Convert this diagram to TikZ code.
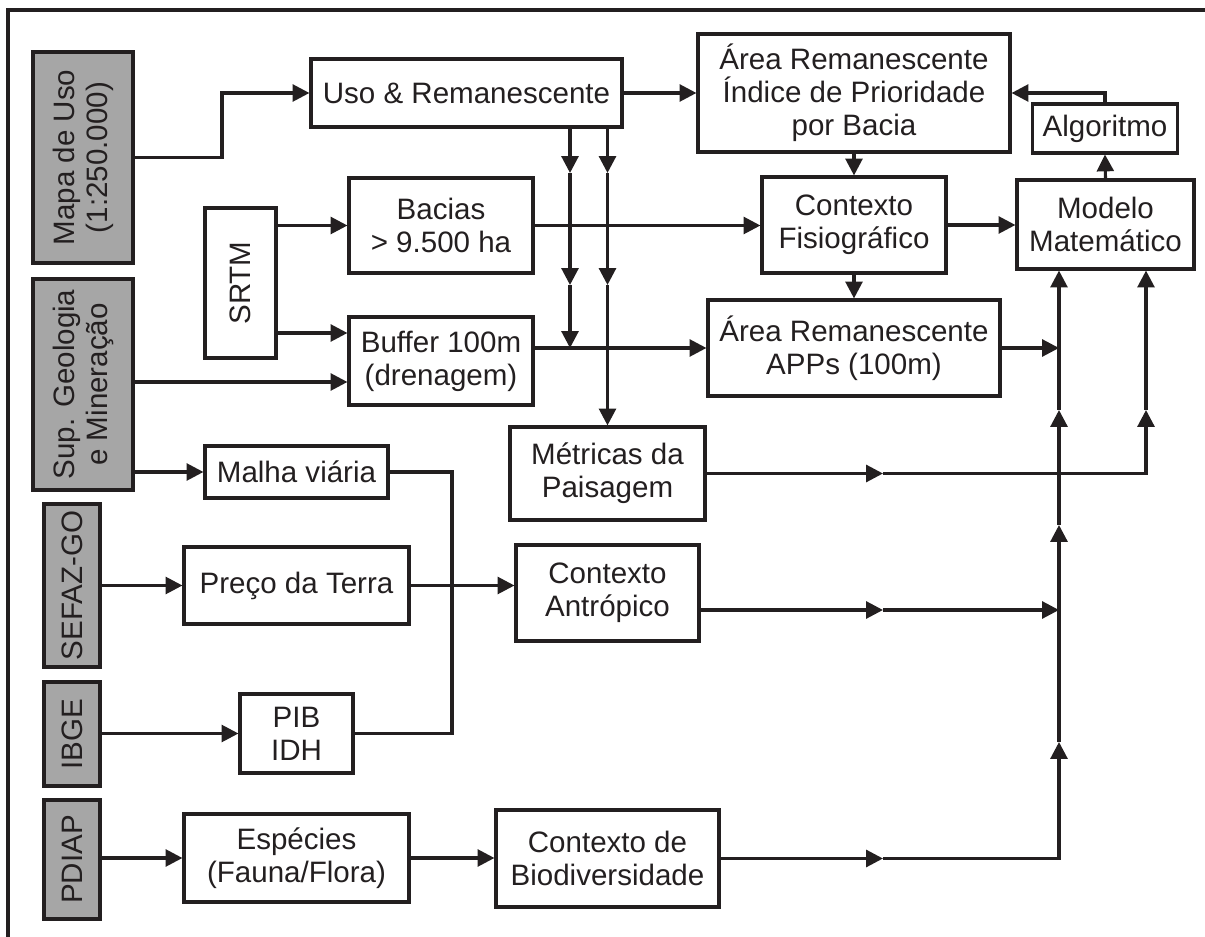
\documentclass[tikz,border=0pt]{standalone}
\usepackage{fontspec}
\setmainfont{Liberation Sans}
\usepackage{tikz}
\usetikzlibrary{arrows.meta}
\definecolor{ink}{HTML}{231F20}
\definecolor{srcgray}{HTML}{A6A6A6}

\tikzset{
  blk/.style={draw=ink, line width=2.2pt, fill=white, inner sep=0pt, align=center,
    font=\fontsize{21}{23.5}\selectfont},
  src/.style={blk, fill=srcgray, rotate=90},
  sz/.style 2 args={minimum width=#1*0.025cm, minimum height=#2*0.025cm},
  arr/.style={-{Triangle[length=0.42cm, width=0.42cm]}}
}

\begin{document}
\begin{tikzpicture}[x=0.025cm, y=-0.025cm, line width=2.2pt, color=ink]
  \useasboundingbox (0,0) rectangle (1205,937);

  % frame
  \draw (8,937) -- (8,10) -- (1205,10);

  % data sources (gray)
  \node[src, sz={211}{100}] (mapa) at (83,157.5) {Mapa de Uso\\(1:250.000)};
  \node[src, sz={211}{100}] (sup) at (83,384.5) {Sup. Geologia\\e Mineração};
  \node[src, sz={163}{56}] (sefaz) at (72,585.5) {SEFAZ-GO};
  \node[src, sz={104}{56}] (ibge) at (72,734) {IBGE};
  \node[src, sz={119}{56}] (pdiap) at (72,859.5) {PDIAP};
  \node[blk, rotate=90, sz={150}{71}] (srtm) at (240.5,283) {SRTM};

  % processing steps
  \node[blk, sz={311}{68}] (uso) at (466.5,93) {Uso \& Remanescente};
  \node[blk, sz={312}{118}] (area) at (854,93) {Área Remanescente\\Índice de Prioridade\\por Bacia};
  \node[blk, sz={145}{49}] (algo) at (1105,128.5) {Algoritmo};
  \node[blk, sz={184}{95}] (bacias) at (441,225.5) {Bacias\\> 9.500 ha};
  \node[blk, sz={184}{96}] (fisio) at (854,225) {Contexto\\Fisiográfico};
  \node[blk, sz={177}{89}] (modelo) at (1105.5,224.5) {Modelo\\Matemático};
  \node[blk, sz={184}{88}] (buffer) at (441,361) {Buffer 100m\\(drenagem)};
  \node[blk, sz={292}{96}] (apps) at (854,348) {Área Remanescente\\APPs (100m)};
  \node[blk, sz={183}{52}] (malha) at (296.5,472) {Malha viária};
  \node[blk, sz={195}{93}] (metricas) at (607.5,473.5) {Métricas da\\Paisagem};
  \node[blk, sz={225}{77}] (preco) at (296.5,585.5) {Preço da Terra};
  \node[blk, sz={183}{96}] (antropico) at (607.5,593) {Contexto\\Antrópico};
  \node[blk, sz={113}{79}] (pib) at (296.5,733.5) {PIB\\IDH};
  \node[blk, sz={225}{88}] (especies) at (296.5,858) {Espécies\\(Fauna/Flora)};
  \node[blk, sz={223}{97}] (biodiv) at (607.5,858.5) {Contexto de\\Biodiversidade};

  % helper points
  \coordinate (k1) at (222,93);
  \coordinate (jv) at (452,733.5);
  \coordinate (cu1) at (570,0);
  \coordinate (cu2) at (607.5,0);
  \coordinate (ca) at (1059,0);
  \coordinate (cb) at (1146,0);
  \coordinate (mx) at (883,0);
  \coordinate (v1) at (0,173);
  \coordinate (v2) at (0,285);
  \coordinate (s1) at (0,333);
  \coordinate (s2) at (0,382);
  \coordinate (h1) at (0,410);
  \coordinate (h3) at (0,525);
  \coordinate (h5) at (0,610);
  \coordinate (h4) at (0,742);

  % inputs
  \draw[arr] (mapa.south) -| (k1) -- (uso.west);
  \draw[arr] (srtm.south |- bacias.west) -- (bacias.west);
  \draw[arr] (srtm.south |- s1) -- (buffer.west |- s1);
  \draw[arr] (sup.south |- s2) -- (buffer.west |- s2);
  \draw[arr] (sup.south |- malha.west) -- (malha.west);
  \draw[arr] (sefaz.south) -- (preco.west);
  \draw[arr] (ibge.south |- pib.west) -- (pib.west);
  \draw[arr] (pdiap.south |- especies.west) -- (especies.west);

  % antropic and biodiversity
  \draw (malha.east) -| (jv) -- (pib.east);
  \draw[arr] (preco.east) -- (antropico.west |- preco.east);
  \draw[arr] (especies.east) -- (biodiv.west |- especies.east);

  % physiographic
  \draw[arr] (uso.east) -- (area.west);
  \draw[arr] (area.south) -- (fisio.north);
  \draw[arr] (fisio.south) -- (apps.north);
  \draw[arr] (bacias.east) -- (fisio.west |- bacias.east);
  \draw[arr] (buffer.east |- apps.west) -- (apps.west);
  \draw[arr] (fisio.east) -- (modelo.west |- fisio.east);
  \draw[arr] (modelo.north) -- (algo.south);
  \draw[arr] (algo.north) |- (area.east);

  % from Uso & Remanescente downwards
  \draw[arr] (uso.south -| cu1) -- (cu1 |- v1);
  \draw[arr] (cu1 |- v1) -- (cu1 |- v2);
  \draw[arr] (cu1 |- v2) -- (cu1 |- apps.west);
  \draw[arr] (uso.south -| cu2) -- (cu2 |- v1);
  \draw[arr] (cu2 |- v1) -- (cu2 |- v2);
  \draw[arr] (cu2 |- v2) -- (metricas.north);

  % into the model
  \draw[arr] (apps.east) -- (ca |- apps.east);
  \draw[arr] (metricas.east) -- (mx |- metricas.east);
  \draw[arr] (mx |- metricas.east) -| (cb |- h1);
  \draw[arr] (cb |- h1) -- (cb |- modelo.south);
  \draw[arr] (antropico.east |- h5) -- (mx |- h5);
  \draw[arr] (mx |- h5) -- (ca |- h5);
  \draw[arr] (biodiv.east) -- (mx |- biodiv.east);
  \draw[arr] (mx |- biodiv.east) -| (ca |- h4);
  \draw[arr] (ca |- h4) -- (ca |- h3);
  \draw[arr] (ca |- h3) -- (ca |- h1);
  \draw[arr] (ca |- h1) -- (ca |- modelo.south);
\end{tikzpicture}
\end{document}
